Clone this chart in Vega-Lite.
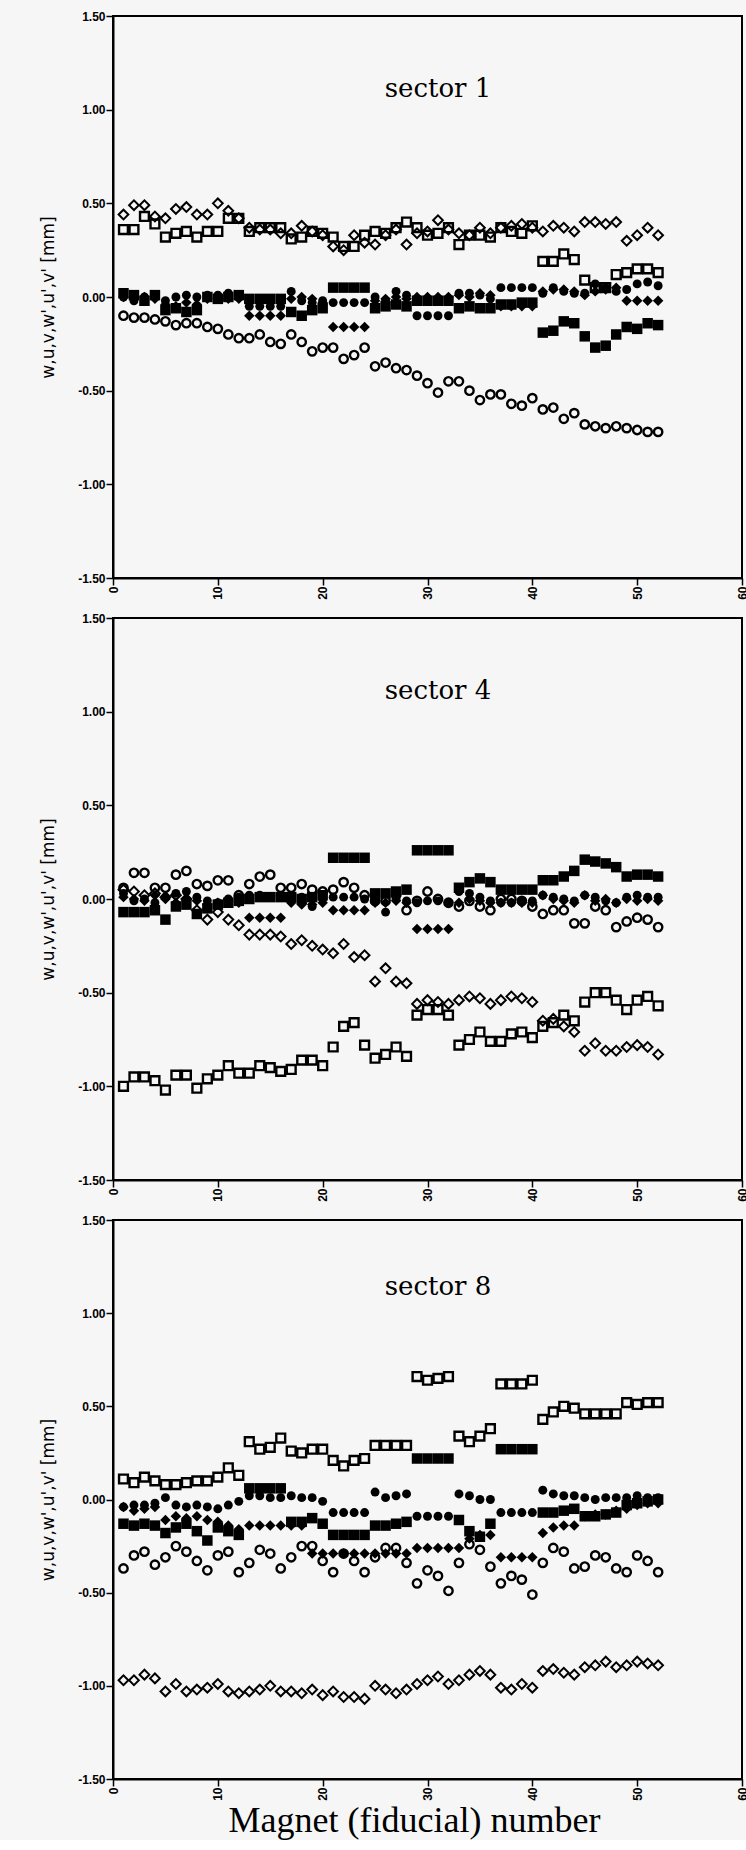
{
"$schema": "https://vega.github.io/schema/vega-lite/v6.json",
"background": "#f6f6f6",
"padding": {"left": 38, "top": 9, "right": 0, "bottom": 0},
"spacing": 10,
"datasets": {
"s1": [
{"n":1,"w":0.36,"u":-0.10,"v":0.44,"wp":0.02,"up":0.00,"vp":0.00},
{"n":2,"w":0.36,"u":-0.11,"v":0.49,"wp":0.01,"up":-0.02,"vp":-0.01},
{"n":3,"w":0.43,"u":-0.11,"v":0.49,"wp":-0.02,"up":0.00,"vp":0.00},
{"n":4,"w":0.39,"u":-0.12,"v":0.43,"wp":0.01,"up":0.01,"vp":-0.01},
{"n":5,"w":0.32,"u":-0.13,"v":0.42,"wp":-0.07,"up":-0.02,"vp":-0.04},
{"n":6,"w":0.34,"u":-0.15,"v":0.47,"wp":-0.06,"up":0.00,"vp":-0.05},
{"n":7,"w":0.35,"u":-0.14,"v":0.48,"wp":-0.08,"up":0.01,"vp":-0.03},
{"n":8,"w":0.32,"u":-0.14,"v":0.44,"wp":-0.07,"up":0.00,"vp":-0.04},
{"n":9,"w":0.35,"u":-0.16,"v":0.44,"wp":0.00,"up":0.01,"vp":-0.01},
{"n":10,"w":0.35,"u":-0.17,"v":0.50,"wp":-0.01,"up":0.01,"vp":0.00},
{"n":11,"w":0.42,"u":-0.20,"v":0.46,"wp":0.00,"up":0.02,"vp":-0.01},
{"n":12,"w":0.42,"u":-0.22,"v":0.42,"wp":0.01,"up":0.00,"vp":-0.01},
{"n":13,"w":0.35,"u":-0.22,"v":0.37,"wp":-0.01,"up":-0.05,"vp":-0.10},
{"n":14,"w":0.37,"u":-0.20,"v":0.36,"wp":-0.01,"up":-0.05,"vp":-0.10},
{"n":15,"w":0.37,"u":-0.24,"v":0.36,"wp":-0.01,"up":-0.05,"vp":-0.10},
{"n":16,"w":0.37,"u":-0.25,"v":0.34,"wp":-0.01,"up":-0.05,"vp":-0.10},
{"n":17,"w":0.31,"u":-0.20,"v":0.34,"wp":-0.08,"up":0.03,"vp":-0.01},
{"n":18,"w":0.32,"u":-0.24,"v":0.38,"wp":-0.10,"up":-0.02,"vp":0.00},
{"n":19,"w":0.35,"u":-0.29,"v":0.35,"wp":-0.07,"up":-0.03,"vp":-0.01},
{"n":20,"w":0.34,"u":-0.27,"v":0.33,"wp":-0.06,"up":-0.02,"vp":-0.03},
{"n":21,"w":0.32,"u":-0.27,"v":0.27,"wp":0.05,"up":-0.03,"vp":-0.16},
{"n":22,"w":0.27,"u":-0.33,"v":0.25,"wp":0.05,"up":-0.03,"vp":-0.16},
{"n":23,"w":0.27,"u":-0.31,"v":0.33,"wp":0.05,"up":-0.03,"vp":-0.16},
{"n":24,"w":0.33,"u":-0.27,"v":0.29,"wp":0.05,"up":-0.03,"vp":-0.16},
{"n":25,"w":0.35,"u":-0.37,"v":0.28,"wp":-0.06,"up":0.00,"vp":-0.02},
{"n":26,"w":0.34,"u":-0.35,"v":0.33,"wp":-0.05,"up":-0.02,"vp":-0.01},
{"n":27,"w":0.37,"u":-0.38,"v":0.36,"wp":-0.04,"up":0.03,"vp":0.00},
{"n":28,"w":0.40,"u":-0.39,"v":0.28,"wp":-0.05,"up":0.01,"vp":-0.01},
{"n":29,"w":0.37,"u":-0.42,"v":0.34,"wp":-0.02,"up":-0.10,"vp":0.00},
{"n":30,"w":0.33,"u":-0.46,"v":0.35,"wp":-0.02,"up":-0.10,"vp":0.00},
{"n":31,"w":0.34,"u":-0.51,"v":0.41,"wp":-0.02,"up":-0.10,"vp":0.00},
{"n":32,"w":0.37,"u":-0.45,"v":0.36,"wp":-0.02,"up":-0.10,"vp":0.00},
{"n":33,"w":0.28,"u":-0.45,"v":0.34,"wp":-0.06,"up":0.02,"vp":0.01},
{"n":34,"w":0.33,"u":-0.50,"v":0.33,"wp":-0.05,"up":0.02,"vp":0.00},
{"n":35,"w":0.33,"u":-0.55,"v":0.37,"wp":-0.06,"up":0.01,"vp":0.02},
{"n":36,"w":0.32,"u":-0.52,"v":0.34,"wp":-0.06,"up":-0.01,"vp":0.01},
{"n":37,"w":0.37,"u":-0.52,"v":0.37,"wp":-0.04,"up":0.05,"vp":-0.05},
{"n":38,"w":0.35,"u":-0.57,"v":0.38,"wp":-0.04,"up":0.05,"vp":-0.05},
{"n":39,"w":0.34,"u":-0.58,"v":0.39,"wp":-0.03,"up":0.05,"vp":-0.05},
{"n":40,"w":0.38,"u":-0.54,"v":0.37,"wp":-0.03,"up":0.05,"vp":-0.05},
{"n":41,"w":0.19,"u":-0.60,"v":0.35,"wp":-0.19,"up":0.02,"vp":0.03},
{"n":42,"w":0.19,"u":-0.59,"v":0.38,"wp":-0.18,"up":0.05,"vp":0.04},
{"n":43,"w":0.23,"u":-0.65,"v":0.37,"wp":-0.13,"up":0.03,"vp":0.04},
{"n":44,"w":0.20,"u":-0.62,"v":0.35,"wp":-0.14,"up":0.02,"vp":0.03},
{"n":45,"w":0.09,"u":-0.68,"v":0.40,"wp":-0.21,"up":0.02,"vp":0.01},
{"n":46,"w":0.05,"u":-0.69,"v":0.40,"wp":-0.27,"up":0.07,"vp":0.03},
{"n":47,"w":0.05,"u":-0.70,"v":0.39,"wp":-0.26,"up":0.05,"vp":0.04},
{"n":48,"w":0.12,"u":-0.69,"v":0.40,"wp":-0.20,"up":0.03,"vp":0.05},
{"n":49,"w":0.13,"u":-0.70,"v":0.30,"wp":-0.16,"up":0.04,"vp":-0.02},
{"n":50,"w":0.15,"u":-0.71,"v":0.33,"wp":-0.17,"up":0.07,"vp":-0.02},
{"n":51,"w":0.15,"u":-0.72,"v":0.37,"wp":-0.14,"up":0.08,"vp":-0.02},
{"n":52,"w":0.13,"u":-0.72,"v":0.33,"wp":-0.15,"up":0.06,"vp":-0.02}
],
"s4": [
{"n":1,"w":-1.00,"u":0.06,"v":0.05,"wp":-0.07,"up":0.03,"vp":0.01},
{"n":2,"w":-0.95,"u":0.14,"v":0.04,"wp":-0.07,"up":-0.01,"vp":0.00},
{"n":3,"w":-0.95,"u":0.14,"v":0.02,"wp":-0.07,"up":0.00,"vp":-0.01},
{"n":4,"w":-0.97,"u":0.06,"v":0.03,"wp":-0.06,"up":-0.02,"vp":0.02},
{"n":5,"w":-1.02,"u":0.06,"v":0.01,"wp":-0.11,"up":0.01,"vp":0.00},
{"n":6,"w":-0.94,"u":0.13,"v":0.02,"wp":-0.04,"up":0.03,"vp":-0.02},
{"n":7,"w":-0.94,"u":0.15,"v":0.00,"wp":-0.03,"up":0.04,"vp":0.00},
{"n":8,"w":-1.01,"u":0.08,"v":-0.06,"wp":-0.08,"up":0.01,"vp":-0.01},
{"n":9,"w":-0.96,"u":0.07,"v":-0.11,"wp":-0.05,"up":-0.01,"vp":-0.03},
{"n":10,"w":-0.94,"u":0.10,"v":-0.07,"wp":-0.03,"up":-0.02,"vp":-0.02},
{"n":11,"w":-0.89,"u":0.10,"v":-0.11,"wp":-0.02,"up":0.00,"vp":-0.01},
{"n":12,"w":-0.93,"u":0.02,"v":-0.14,"wp":-0.01,"up":0.01,"vp":-0.02},
{"n":13,"w":-0.93,"u":0.08,"v":-0.19,"wp":0.00,"up":0.02,"vp":-0.10},
{"n":14,"w":-0.89,"u":0.12,"v":-0.19,"wp":0.01,"up":0.02,"vp":-0.10},
{"n":15,"w":-0.90,"u":0.13,"v":-0.19,"wp":0.01,"up":0.01,"vp":-0.10},
{"n":16,"w":-0.92,"u":0.06,"v":-0.20,"wp":0.01,"up":0.01,"vp":-0.10},
{"n":17,"w":-0.91,"u":0.06,"v":-0.24,"wp":0.01,"up":0.00,"vp":-0.02},
{"n":18,"w":-0.86,"u":0.08,"v":-0.22,"wp":0.00,"up":0.01,"vp":-0.03},
{"n":19,"w":-0.86,"u":0.05,"v":-0.25,"wp":0.01,"up":-0.04,"vp":-0.03},
{"n":20,"w":-0.89,"u":0.04,"v":-0.27,"wp":0.02,"up":0.00,"vp":-0.02},
{"n":21,"w":-0.79,"u":0.05,"v":-0.29,"wp":0.22,"up":0.01,"vp":-0.06},
{"n":22,"w":-0.68,"u":0.09,"v":-0.24,"wp":0.22,"up":0.01,"vp":-0.06},
{"n":23,"w":-0.66,"u":0.06,"v":-0.31,"wp":0.22,"up":0.01,"vp":-0.06},
{"n":24,"w":-0.78,"u":0.02,"v":-0.30,"wp":0.22,"up":0.00,"vp":-0.06},
{"n":25,"w":-0.85,"u":-0.01,"v":-0.44,"wp":0.03,"up":0.00,"vp":-0.02},
{"n":26,"w":-0.83,"u":-0.01,"v":-0.37,"wp":0.03,"up":-0.07,"vp":-0.02},
{"n":27,"w":-0.79,"u":0.02,"v":-0.44,"wp":0.04,"up":0.00,"vp":-0.01},
{"n":28,"w":-0.84,"u":-0.06,"v":-0.45,"wp":0.05,"up":-0.01,"vp":-0.02},
{"n":29,"w":-0.62,"u":-0.01,"v":-0.56,"wp":0.26,"up":-0.02,"vp":-0.16},
{"n":30,"w":-0.59,"u":0.04,"v":-0.54,"wp":0.26,"up":-0.01,"vp":-0.16},
{"n":31,"w":-0.59,"u":0.00,"v":-0.55,"wp":0.26,"up":-0.01,"vp":-0.16},
{"n":32,"w":-0.62,"u":-0.02,"v":-0.56,"wp":0.26,"up":-0.02,"vp":-0.16},
{"n":33,"w":-0.78,"u":-0.04,"v":-0.54,"wp":0.06,"up":0.04,"vp":-0.02},
{"n":34,"w":-0.75,"u":-0.01,"v":-0.52,"wp":0.09,"up":0.03,"vp":0.00},
{"n":35,"w":-0.71,"u":-0.04,"v":-0.53,"wp":0.11,"up":0.01,"vp":-0.01},
{"n":36,"w":-0.76,"u":-0.06,"v":-0.56,"wp":0.09,"up":-0.01,"vp":-0.02},
{"n":37,"w":-0.76,"u":0.00,"v":-0.54,"wp":0.05,"up":-0.02,"vp":-0.02},
{"n":38,"w":-0.72,"u":0.00,"v":-0.52,"wp":0.05,"up":-0.02,"vp":-0.02},
{"n":39,"w":-0.71,"u":-0.01,"v":-0.53,"wp":0.05,"up":-0.01,"vp":-0.02},
{"n":40,"w":-0.74,"u":-0.04,"v":-0.55,"wp":0.05,"up":-0.01,"vp":-0.02},
{"n":41,"w":-0.68,"u":-0.08,"v":-0.65,"wp":0.10,"up":0.02,"vp":0.02},
{"n":42,"w":-0.66,"u":-0.06,"v":-0.64,"wp":0.10,"up":0.01,"vp":0.00},
{"n":43,"w":-0.62,"u":-0.06,"v":-0.68,"wp":0.12,"up":0.00,"vp":-0.01},
{"n":44,"w":-0.65,"u":-0.13,"v":-0.71,"wp":0.15,"up":-0.01,"vp":-0.02},
{"n":45,"w":-0.55,"u":-0.13,"v":-0.81,"wp":0.21,"up":0.02,"vp":0.02},
{"n":46,"w":-0.50,"u":-0.04,"v":-0.77,"wp":0.20,"up":0.01,"vp":-0.01},
{"n":47,"w":-0.50,"u":-0.06,"v":-0.81,"wp":0.19,"up":-0.01,"vp":0.00},
{"n":48,"w":-0.54,"u":-0.15,"v":-0.81,"wp":0.17,"up":-0.02,"vp":-0.02},
{"n":49,"w":-0.59,"u":-0.12,"v":-0.79,"wp":0.12,"up":0.01,"vp":0.00},
{"n":50,"w":-0.54,"u":-0.10,"v":-0.78,"wp":0.13,"up":0.02,"vp":-0.01},
{"n":51,"w":-0.52,"u":-0.11,"v":-0.79,"wp":0.13,"up":0.01,"vp":0.00},
{"n":52,"w":-0.57,"u":-0.15,"v":-0.83,"wp":0.12,"up":0.01,"vp":-0.01}
],
"s8": [
{"n":1,"w":0.11,"u":-0.37,"v":-0.97,"wp":-0.13,"up":-0.04,"vp":-0.04},
{"n":2,"w":0.09,"u":-0.30,"v":-0.97,"wp":-0.14,"up":-0.03,"vp":-0.06},
{"n":3,"w":0.12,"u":-0.28,"v":-0.94,"wp":-0.13,"up":-0.03,"vp":-0.05},
{"n":4,"w":0.10,"u":-0.35,"v":-0.96,"wp":-0.14,"up":-0.02,"vp":-0.04},
{"n":5,"w":0.08,"u":-0.31,"v":-1.03,"wp":-0.18,"up":0.01,"vp":-0.11},
{"n":6,"w":0.08,"u":-0.25,"v":-0.99,"wp":-0.15,"up":-0.03,"vp":-0.09},
{"n":7,"w":0.09,"u":-0.28,"v":-1.03,"wp":-0.13,"up":-0.04,"vp":-0.10},
{"n":8,"w":0.10,"u":-0.33,"v":-1.02,"wp":-0.17,"up":-0.03,"vp":-0.09},
{"n":9,"w":0.10,"u":-0.38,"v":-1.01,"wp":-0.22,"up":-0.04,"vp":-0.11},
{"n":10,"w":0.12,"u":-0.30,"v":-0.99,"wp":-0.15,"up":-0.05,"vp":-0.12},
{"n":11,"w":0.17,"u":-0.28,"v":-1.03,"wp":-0.17,"up":-0.03,"vp":-0.14},
{"n":12,"w":0.13,"u":-0.39,"v":-1.04,"wp":-0.19,"up":-0.01,"vp":-0.16},
{"n":13,"w":0.31,"u":-0.34,"v":-1.03,"wp":0.06,"up":0.02,"vp":-0.14},
{"n":14,"w":0.27,"u":-0.27,"v":-1.02,"wp":0.06,"up":0.02,"vp":-0.14},
{"n":15,"w":0.28,"u":-0.29,"v":-1.00,"wp":0.06,"up":0.01,"vp":-0.14},
{"n":16,"w":0.33,"u":-0.37,"v":-1.03,"wp":0.06,"up":0.01,"vp":-0.14},
{"n":17,"w":0.26,"u":-0.31,"v":-1.03,"wp":-0.12,"up":0.02,"vp":-0.14},
{"n":18,"w":0.25,"u":-0.25,"v":-1.04,"wp":-0.12,"up":0.01,"vp":-0.14},
{"n":19,"w":0.27,"u":-0.25,"v":-1.02,"wp":-0.10,"up":0.01,"vp":-0.29},
{"n":20,"w":0.27,"u":-0.33,"v":-1.05,"wp":-0.13,"up":-0.01,"vp":-0.29},
{"n":21,"w":0.21,"u":-0.39,"v":-1.03,"wp":-0.19,"up":-0.07,"vp":-0.29},
{"n":22,"w":0.18,"u":-0.29,"v":-1.06,"wp":-0.19,"up":-0.07,"vp":-0.29},
{"n":23,"w":0.21,"u":-0.33,"v":-1.06,"wp":-0.19,"up":-0.07,"vp":-0.29},
{"n":24,"w":0.22,"u":-0.39,"v":-1.07,"wp":-0.19,"up":-0.07,"vp":-0.29},
{"n":25,"w":0.29,"u":-0.31,"v":-1.00,"wp":-0.14,"up":0.04,"vp":-0.29},
{"n":26,"w":0.29,"u":-0.26,"v":-1.02,"wp":-0.14,"up":0.01,"vp":-0.29},
{"n":27,"w":0.29,"u":-0.26,"v":-1.04,"wp":-0.13,"up":0.02,"vp":-0.29},
{"n":28,"w":0.29,"u":-0.34,"v":-1.02,"wp":-0.12,"up":0.03,"vp":-0.29},
{"n":29,"w":0.66,"u":-0.45,"v":-0.99,"wp":0.22,"up":-0.09,"vp":-0.26},
{"n":30,"w":0.64,"u":-0.38,"v":-0.97,"wp":0.22,"up":-0.09,"vp":-0.26},
{"n":31,"w":0.65,"u":-0.41,"v":-0.95,"wp":0.22,"up":-0.09,"vp":-0.26},
{"n":32,"w":0.66,"u":-0.49,"v":-0.99,"wp":0.22,"up":-0.09,"vp":-0.26},
{"n":33,"w":0.34,"u":-0.34,"v":-0.97,"wp":-0.11,"up":0.03,"vp":-0.26},
{"n":34,"w":0.31,"u":-0.24,"v":-0.94,"wp":-0.17,"up":0.02,"vp":-0.21},
{"n":35,"w":0.34,"u":-0.27,"v":-0.92,"wp":-0.20,"up":0.00,"vp":-0.19},
{"n":36,"w":0.38,"u":-0.36,"v":-0.94,"wp":-0.13,"up":0.00,"vp":-0.19},
{"n":37,"w":0.62,"u":-0.45,"v":-1.01,"wp":0.27,"up":-0.07,"vp":-0.31},
{"n":38,"w":0.62,"u":-0.41,"v":-1.02,"wp":0.27,"up":-0.07,"vp":-0.31},
{"n":39,"w":0.62,"u":-0.43,"v":-0.99,"wp":0.27,"up":-0.07,"vp":-0.31},
{"n":40,"w":0.64,"u":-0.51,"v":-1.01,"wp":0.27,"up":-0.07,"vp":-0.31},
{"n":41,"w":0.43,"u":-0.34,"v":-0.92,"wp":-0.07,"up":0.05,"vp":-0.18},
{"n":42,"w":0.47,"u":-0.26,"v":-0.91,"wp":-0.07,"up":0.03,"vp":-0.15},
{"n":43,"w":0.50,"u":-0.28,"v":-0.93,"wp":-0.06,"up":0.02,"vp":-0.14},
{"n":44,"w":0.49,"u":-0.37,"v":-0.94,"wp":-0.05,"up":0.02,"vp":-0.14},
{"n":45,"w":0.46,"u":-0.36,"v":-0.90,"wp":-0.09,"up":0.01,"vp":-0.09},
{"n":46,"w":0.46,"u":-0.30,"v":-0.89,"wp":-0.09,"up":0.00,"vp":-0.08},
{"n":47,"w":0.46,"u":-0.31,"v":-0.87,"wp":-0.08,"up":0.01,"vp":-0.08},
{"n":48,"w":0.46,"u":-0.37,"v":-0.90,"wp":-0.07,"up":0.01,"vp":-0.06},
{"n":49,"w":0.52,"u":-0.39,"v":-0.89,"wp":-0.03,"up":0.01,"vp":-0.05},
{"n":50,"w":0.51,"u":-0.30,"v":-0.87,"wp":-0.02,"up":0.02,"vp":-0.03},
{"n":51,"w":0.52,"u":-0.33,"v":-0.88,"wp":-0.01,"up":0.01,"vp":-0.02},
{"n":52,"w":0.52,"u":-0.39,"v":-0.89,"wp":0.00,"up":0.01,"vp":-0.02}
]
},
"vconcat": [
{
"width": 629, "height": 562,
"layer": [
{"data": {"name": "s1"}, "mark": {"type": "point", "shape": "diamond", "filled": false, "stroke": "black", "strokeWidth": 2, "size": 95, "opacity": 1}, "encoding": {"x": {"field": "n", "type": "quantitative", "scale": {"domain": [0, 60], "nice": false}, "axis": {"values": [0,10,20,30,40,50,60], "title": null}}, "y": {"field": "v", "type": "quantitative", "scale": {"domain": [-1.5, 1.5], "nice": false}, "axis": {"values": [-1.5,-1,-0.5,0,0.5,1,1.5], "title": "w,u,v,w',u',v' [mm]"}}}},
{"data": {"name": "s1"}, "mark": {"type": "point", "shape": "square", "filled": false, "stroke": "black", "strokeWidth": 2.4, "size": 78, "opacity": 1}, "encoding": {"x": {"field": "n", "type": "quantitative", "axis": {"values": [0,10,20,30,40,50,60], "title": null}}, "y": {"field": "w", "type": "quantitative", "axis": {"values": [-1.5,-1,-0.5,0,0.5,1,1.5], "title": "w,u,v,w',u',v' [mm]"}}}},
{"data": {"name": "s1"}, "mark": {"type": "point", "shape": "circle", "filled": false, "stroke": "black", "strokeWidth": 2.4, "size": 70, "opacity": 1}, "encoding": {"x": {"field": "n", "type": "quantitative", "axis": {"values": [0,10,20,30,40,50,60], "title": null}}, "y": {"field": "u", "type": "quantitative", "axis": {"values": [-1.5,-1,-0.5,0,0.5,1,1.5], "title": "w,u,v,w',u',v' [mm]"}}}},
{"data": {"name": "s1"}, "mark": {"type": "point", "shape": "square", "filled": true, "color": "black", "size": 110, "opacity": 1}, "encoding": {"x": {"field": "n", "type": "quantitative", "axis": {"values": [0,10,20,30,40,50,60], "title": null}}, "y": {"field": "wp", "type": "quantitative", "axis": {"values": [-1.5,-1,-0.5,0,0.5,1,1.5], "title": "w,u,v,w',u',v' [mm]"}}}},
{"data": {"name": "s1"}, "mark": {"type": "point", "shape": "circle", "filled": true, "color": "black", "size": 80, "opacity": 1}, "encoding": {"x": {"field": "n", "type": "quantitative", "axis": {"values": [0,10,20,30,40,50,60], "title": null}}, "y": {"field": "up", "type": "quantitative", "axis": {"values": [-1.5,-1,-0.5,0,0.5,1,1.5], "title": "w,u,v,w',u',v' [mm]"}}}},
{"data": {"name": "s1"}, "mark": {"type": "point", "shape": "diamond", "filled": true, "color": "black", "size": 110, "opacity": 1}, "encoding": {"x": {"field": "n", "type": "quantitative", "axis": {"values": [0,10,20,30,40,50,60], "title": null}}, "y": {"field": "vp", "type": "quantitative", "axis": {"values": [-1.5,-1,-0.5,0,0.5,1,1.5], "title": "w,u,v,w',u',v' [mm]"}}}},
{"data": {"values": [{"label": "sector 1", "px": 31, "py": 1.11}]}, "mark": {"type": "text", "font": "DejaVu Serif", "fontSize": 26, "fill": "black"}, "encoding": {"x": {"field": "px", "type": "quantitative", "axis": {"values": [0,10,20,30,40,50,60], "title": null}}, "y": {"field": "py", "type": "quantitative", "axis": {"values": [-1.5,-1,-0.5,0,0.5,1,1.5], "title": "w,u,v,w',u',v' [mm]"}}, "text": {"field": "label"}}}
]
},
{
"width": 629, "height": 562,
"layer": [
{"data": {"name": "s4"}, "mark": {"type": "point", "shape": "diamond", "filled": false, "stroke": "black", "strokeWidth": 2, "size": 95, "opacity": 1}, "encoding": {"x": {"field": "n", "type": "quantitative", "scale": {"domain": [0, 60], "nice": false}, "axis": {"values": [0,10,20,30,40,50,60], "title": null}}, "y": {"field": "v", "type": "quantitative", "scale": {"domain": [-1.5, 1.5], "nice": false}, "axis": {"values": [-1.5,-1,-0.5,0,0.5,1,1.5], "title": "w,u,v,w',u',v' [mm]"}}}},
{"data": {"name": "s4"}, "mark": {"type": "point", "shape": "square", "filled": false, "stroke": "black", "strokeWidth": 2.4, "size": 78, "opacity": 1}, "encoding": {"x": {"field": "n", "type": "quantitative", "axis": {"values": [0,10,20,30,40,50,60], "title": null}}, "y": {"field": "w", "type": "quantitative", "axis": {"values": [-1.5,-1,-0.5,0,0.5,1,1.5], "title": "w,u,v,w',u',v' [mm]"}}}},
{"data": {"name": "s4"}, "mark": {"type": "point", "shape": "circle", "filled": false, "stroke": "black", "strokeWidth": 2.4, "size": 70, "opacity": 1}, "encoding": {"x": {"field": "n", "type": "quantitative", "axis": {"values": [0,10,20,30,40,50,60], "title": null}}, "y": {"field": "u", "type": "quantitative", "axis": {"values": [-1.5,-1,-0.5,0,0.5,1,1.5], "title": "w,u,v,w',u',v' [mm]"}}}},
{"data": {"name": "s4"}, "mark": {"type": "point", "shape": "square", "filled": true, "color": "black", "size": 110, "opacity": 1}, "encoding": {"x": {"field": "n", "type": "quantitative", "axis": {"values": [0,10,20,30,40,50,60], "title": null}}, "y": {"field": "wp", "type": "quantitative", "axis": {"values": [-1.5,-1,-0.5,0,0.5,1,1.5], "title": "w,u,v,w',u',v' [mm]"}}}},
{"data": {"name": "s4"}, "mark": {"type": "point", "shape": "circle", "filled": true, "color": "black", "size": 80, "opacity": 1}, "encoding": {"x": {"field": "n", "type": "quantitative", "axis": {"values": [0,10,20,30,40,50,60], "title": null}}, "y": {"field": "up", "type": "quantitative", "axis": {"values": [-1.5,-1,-0.5,0,0.5,1,1.5], "title": "w,u,v,w',u',v' [mm]"}}}},
{"data": {"name": "s4"}, "mark": {"type": "point", "shape": "diamond", "filled": true, "color": "black", "size": 110, "opacity": 1}, "encoding": {"x": {"field": "n", "type": "quantitative", "axis": {"values": [0,10,20,30,40,50,60], "title": null}}, "y": {"field": "vp", "type": "quantitative", "axis": {"values": [-1.5,-1,-0.5,0,0.5,1,1.5], "title": "w,u,v,w',u',v' [mm]"}}}},
{"data": {"values": [{"label": "sector 4", "px": 31, "py": 1.11}]}, "mark": {"type": "text", "font": "DejaVu Serif", "fontSize": 26, "fill": "black"}, "encoding": {"x": {"field": "px", "type": "quantitative", "axis": {"values": [0,10,20,30,40,50,60], "title": null}}, "y": {"field": "py", "type": "quantitative", "axis": {"values": [-1.5,-1,-0.5,0,0.5,1,1.5], "title": "w,u,v,w',u',v' [mm]"}}, "text": {"field": "label"}}}
]
},
{
"width": 629, "height": 559,
"layer": [
{"data": {"name": "s8"}, "mark": {"type": "point", "shape": "diamond", "filled": false, "stroke": "black", "strokeWidth": 2, "size": 95, "opacity": 1}, "encoding": {"x": {"field": "n", "type": "quantitative", "scale": {"domain": [0, 60], "nice": false}, "axis": {"values": [0,10,20,30,40,50,60], "title": "Magnet (fiducial) number", "titleX": 301}}, "y": {"field": "v", "type": "quantitative", "scale": {"domain": [-1.5, 1.5], "nice": false}, "axis": {"values": [-1.5,-1,-0.5,0,0.5,1,1.5], "title": "w,u,v,w',u',v' [mm]"}}}},
{"data": {"name": "s8"}, "mark": {"type": "point", "shape": "square", "filled": false, "stroke": "black", "strokeWidth": 2.4, "size": 78, "opacity": 1}, "encoding": {"x": {"field": "n", "type": "quantitative", "axis": {"values": [0,10,20,30,40,50,60], "title": "Magnet (fiducial) number", "titleX": 301}}, "y": {"field": "w", "type": "quantitative", "axis": {"values": [-1.5,-1,-0.5,0,0.5,1,1.5], "title": "w,u,v,w',u',v' [mm]"}}}},
{"data": {"name": "s8"}, "mark": {"type": "point", "shape": "circle", "filled": false, "stroke": "black", "strokeWidth": 2.4, "size": 70, "opacity": 1}, "encoding": {"x": {"field": "n", "type": "quantitative", "axis": {"values": [0,10,20,30,40,50,60], "title": "Magnet (fiducial) number", "titleX": 301}}, "y": {"field": "u", "type": "quantitative", "axis": {"values": [-1.5,-1,-0.5,0,0.5,1,1.5], "title": "w,u,v,w',u',v' [mm]"}}}},
{"data": {"name": "s8"}, "mark": {"type": "point", "shape": "square", "filled": true, "color": "black", "size": 110, "opacity": 1}, "encoding": {"x": {"field": "n", "type": "quantitative", "axis": {"values": [0,10,20,30,40,50,60], "title": "Magnet (fiducial) number", "titleX": 301}}, "y": {"field": "wp", "type": "quantitative", "axis": {"values": [-1.5,-1,-0.5,0,0.5,1,1.5], "title": "w,u,v,w',u',v' [mm]"}}}},
{"data": {"name": "s8"}, "mark": {"type": "point", "shape": "circle", "filled": true, "color": "black", "size": 80, "opacity": 1}, "encoding": {"x": {"field": "n", "type": "quantitative", "axis": {"values": [0,10,20,30,40,50,60], "title": "Magnet (fiducial) number", "titleX": 301}}, "y": {"field": "up", "type": "quantitative", "axis": {"values": [-1.5,-1,-0.5,0,0.5,1,1.5], "title": "w,u,v,w',u',v' [mm]"}}}},
{"data": {"name": "s8"}, "mark": {"type": "point", "shape": "diamond", "filled": true, "color": "black", "size": 110, "opacity": 1}, "encoding": {"x": {"field": "n", "type": "quantitative", "axis": {"values": [0,10,20,30,40,50,60], "title": "Magnet (fiducial) number", "titleX": 301}}, "y": {"field": "vp", "type": "quantitative", "axis": {"values": [-1.5,-1,-0.5,0,0.5,1,1.5], "title": "w,u,v,w',u',v' [mm]"}}}},
{"data": {"values": [{"label": "sector 8", "px": 31, "py": 1.14}]}, "mark": {"type": "text", "font": "DejaVu Serif", "fontSize": 26, "fill": "black"}, "encoding": {"x": {"field": "px", "type": "quantitative", "axis": {"values": [0,10,20,30,40,50,60], "title": "Magnet (fiducial) number", "titleX": 301}}, "y": {"field": "py", "type": "quantitative", "axis": {"values": [-1.5,-1,-0.5,0,0.5,1,1.5], "title": "w,u,v,w',u',v' [mm]"}}, "text": {"field": "label"}}}
]
}
],
"config": {
"view": {"stroke": "black", "strokeWidth": 2},
"axis": {"grid": false, "domainColor": "black", "domainWidth": 2, "tickColor": "black", "tickWidth": 1.5, "tickSize": 7, "labelColor": "black", "labelFont": "Liberation Sans", "labelFontSize": 12, "labelFontWeight": "bold", "labelPadding": 1, "titleColor": "black", "labelOverlap": false},
"axisY": {"labelExpr": "(datum.value < 0 ? '-' : '') + format(abs(datum.value), '.2f')", "titleFont": "DejaVu Sans", "titleFontSize": 17, "titleFontWeight": "normal", "titlePadding": 20},
"axisX": {"labelAngle": 270, "labelFlush": false, "labelFontSize": 12, "titleFont": "Liberation Serif", "titleFontSize": 36, "titleFontWeight": "normal", "titlePadding": 3}
}
}
